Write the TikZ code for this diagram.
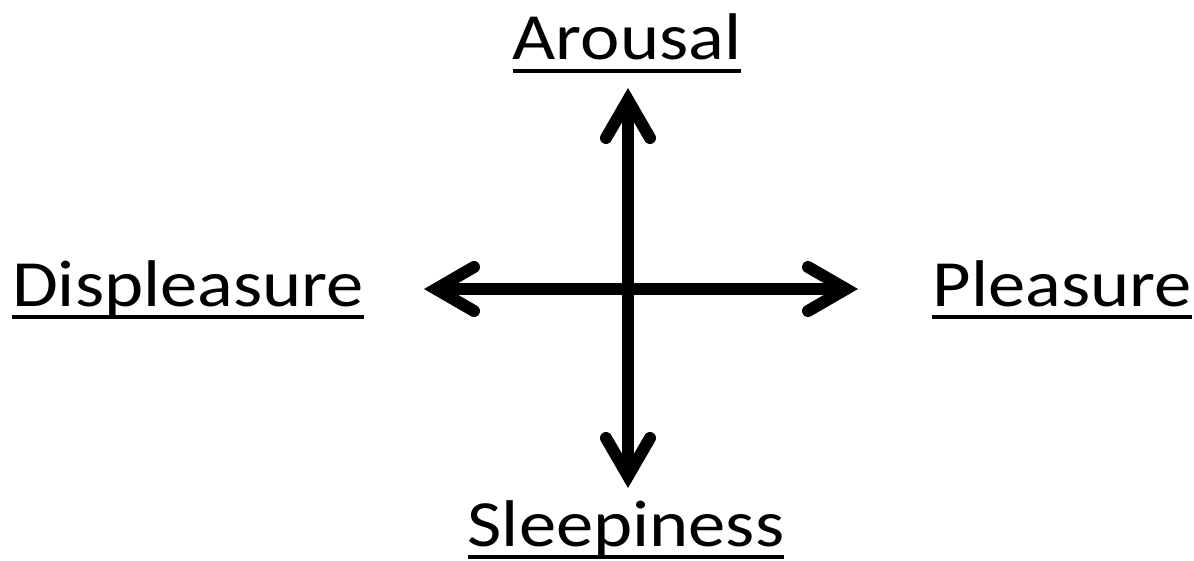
\documentclass[tikz,border=0pt]{standalone}
\usepackage{fontspec}
\setmainfont{Carlito}[FakeStretch=1.13]
\usetikzlibrary{arrows.meta}
\tikzset{
  barb/.tip={Straight Barb[length=38pt, width=44pt, line width=12pt, line cap=round, line join=miter]},
  lbl/.style={inner sep=0pt, anchor=base, font=\fontsize{66}{70}\selectfont},
  axis/.style={line width=12pt, line cap=round, barb-barb},
  uline/.style={line width=3.5pt}
}
\begin{document}
\begin{tikzpicture}[x=1pt,y=-1pt]
\useasboundingbox (0,0) rectangle (1194,561);
\coordinate (top) at (628,88);
\coordinate (bot) at (628,488);
\coordinate (lft) at (424,289);
\coordinate (rgt) at (858,289);
\draw[axis] (bot) -- (top);
\draw[axis] (lft) -- (rgt);
\node[lbl] (arousal) at (627,60) {Arousal};
\node[lbl] (displeasure) at (188,306) {Displeasure};
\node[lbl] (pleasure) at (1062,306) {Pleasure};
\node[lbl] (sleepiness) at (626,546) {Sleepiness};
\foreach \n in {arousal,displeasure,pleasure,sleepiness}{
  \draw[uline] ([yshift=-11pt]\n.base west) -- ([yshift=-11pt]\n.base east);
}
\end{tikzpicture}
\end{document}
